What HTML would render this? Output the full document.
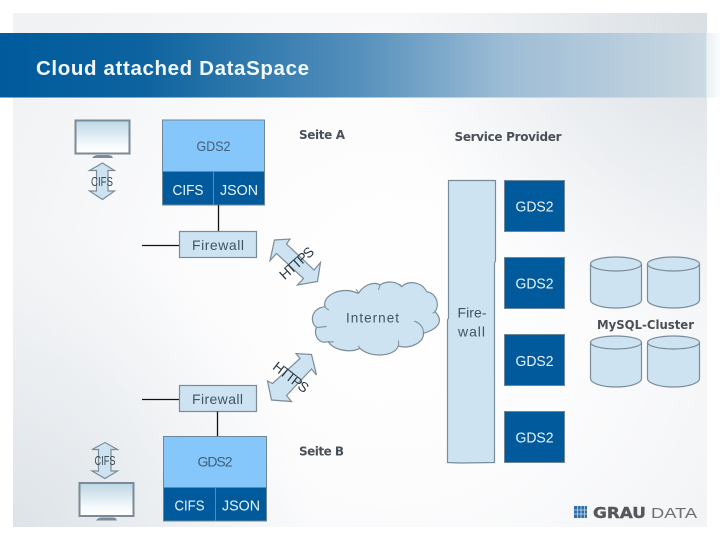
<!DOCTYPE html>
<html><head><meta charset="utf-8"><style>
html,body{margin:0;padding:0;background:#fff}
svg{display:block}
text{font-family:"Liberation Sans",sans-serif}
.b{font-weight:bold;fill:#4a5058;font-family:"DejaVu Sans",sans-serif}
.w{fill:#e8f3fb;font-size:15px}
.d{fill:#3f5f7a;font-size:14px}
.f{fill:#cde3f2;stroke:#7b8c99;stroke-width:1.2}
.n{fill:#005a9c;stroke:#6f8697;stroke-width:1}
.c{fill:none;stroke:#7b8c99;stroke-width:1.2}
</style></head><body>
<svg width="720" height="540" viewBox="0 0 720 540" xmlns="http://www.w3.org/2000/svg">
<defs>
<radialGradient id="bg" gradientUnits="userSpaceOnUse" cx="390" cy="300" r="430">
<stop offset="0" stop-color="#ffffff"/><stop offset=".45" stop-color="#fcfcfd"/><stop offset="1" stop-color="#f0f2f4"/>
</radialGradient>
<radialGradient id="bl" gradientUnits="userSpaceOnUse" cx="13" cy="527" r="300">
<stop offset="0" stop-color="#dde3e8"/><stop offset="1" stop-color="#e6eaee" stop-opacity="0"/>
</radialGradient>
<radialGradient id="tr" gradientUnits="userSpaceOnUse" cx="707" cy="13" r="320">
<stop offset="0" stop-color="#d8dee3"/><stop offset="1" stop-color="#e4e8ec" stop-opacity="0"/>
</radialGradient>
<linearGradient id="ban" x1="0" x2="1" y1="0" y2="0">
<stop offset="0" stop-color="#005a9c"/><stop offset=".2" stop-color="#0d639f"/><stop offset=".5" stop-color="#5590bc"/><stop offset=".7" stop-color="#9dbcd5"/><stop offset=".85" stop-color="#b5cbdc"/><stop offset=".98" stop-color="#cbd9e2"/><stop offset=".982" stop-color="#e9f0f4"/><stop offset="1" stop-color="#fafcfd"/>
</linearGradient>
<linearGradient id="mon" x1="0" x2="0" y1="0" y2="1">
<stop offset="0" stop-color="#bdd6e4"/><stop offset=".75" stop-color="#f6fafc"/><stop offset="1" stop-color="#ffffff"/>
</linearGradient>
</defs>
<rect x="13" y="13" width="694" height="514" fill="url(#bg)"/>
<rect x="13" y="13" width="694" height="514" fill="url(#bl)"/>
<rect x="13" y="13" width="694" height="514" fill="url(#tr)"/>
<rect x="0" y="33" width="720" height="64.5" fill="url(#ban)"/>
<text x="36" y="75" font-size="20.5" font-weight="bold" fill="#f2f8fc" textLength="273" lengthAdjust="spacing">Cloud attached DataSpace</text>

<!-- top left -->
<rect x="75.5" y="120.5" width="54" height="33" fill="url(#mon)" stroke="#7a8a96" stroke-width="2"/>
<path d="M92,158 Q94,155 98,155 H108 Q112,155 113,158 Z" fill="#7a8a96"/>
<polygon class="f" points="102.5,163 114.5,170.5 108,170.5 108,191 114.5,191 102.5,199.5 89.5,191 96.5,191 96.5,170.5 89.5,170.5"/>
<text x="91" y="186" font-size="12.5" fill="#3c4a55" textLength="22" lengthAdjust="spacingAndGlyphs">CIFS</text>

<rect x="162.5" y="120" width="102" height="51.5" fill="#85c6fb" stroke="#6f8697"/>
<rect class="n" x="162.5" y="171.5" width="102" height="33.5"/>
<line x1="213.5" y1="171.5" x2="213.5" y2="205" stroke="#6f8697"/>
<text class="d" x="196.5" y="151" textLength="34" lengthAdjust="spacingAndGlyphs">GDS2</text>
<text class="w" x="172.5" y="195" textLength="31" lengthAdjust="spacingAndGlyphs">CIFS</text>
<text class="w" x="220" y="195" textLength="38" lengthAdjust="spacingAndGlyphs">JSON</text>
<line x1="218.5" y1="205" x2="218.5" y2="231" stroke="#111" stroke-width="1.3"/>
<line x1="142" y1="245.5" x2="179" y2="245.5" stroke="#111" stroke-width="1.3"/>
<rect class="f" x="179.5" y="231.5" width="77" height="26"/>
<text x="192" y="250" font-size="14" fill="#3f5566" textLength="52" lengthAdjust="spacing">Firewall</text>

<text class="b" x="299" y="139" font-size="12" textLength="46" lengthAdjust="spacing">Seite A</text>
<text class="b" x="454.5" y="141" font-size="12" textLength="107" lengthAdjust="spacing">Service Provider</text>

<!-- https arrows -->
<polygon class="f" points="274.5,240 290,239 286.5,244 314,270 320.5,262.5 317.5,281.5 297.5,285 303.5,278.5 276.5,253.5 270,260.5"/>
<text transform="translate(296.5,263) rotate(-42)" x="0" y="5" text-anchor="middle" font-size="14" fill="#2d3a44" textLength="41" lengthAdjust="spacing">HTTPS</text>
<polygon class="f" points="311.5,354.5 296,353.5 300,358.5 272.5,383.5 267.5,381 271.5,400 291.5,401.5 286.5,395.5 311.5,369 316.5,375"/>
<text transform="translate(291,377) rotate(38)" x="0" y="5" text-anchor="middle" font-size="14" fill="#2d3a44" textLength="41" lengthAdjust="spacing">HTTPS</text>

<!-- cloud -->
<g transform="translate(300,270) scale(.33333)">
<path d="M75,110 C65,80 120,45 175,70 C195,40 225,35 240,45 C262,30 290,35 305,50 C325,30 365,35 380,65 C410,70 420,105 405,125 C430,150 420,175 370,190 C375,215 330,240 295,228 C285,260 210,265 180,235 C150,250 100,240 85,215 C50,225 40,185 50,172 C30,160 30,115 75,110 Z" fill="#cde3f2" stroke="#7b8c99" stroke-width="3.6"/>
<path d="M75,110 Q78,116 87,120 M50,172 Q62,172 80,169 M85,215 Q92,217 101,215 M175,70 Q173,64 168,58 M180,235 Q177,230 174,228 M295,228 Q297,220 295,212 M370,190 Q372,165 343,153 M405,125 L398,130 M240,45 Q238,52 235,60 M305,50 L299,42" fill="none" stroke="#7b8c99" stroke-width="3"/>
</g>
<text x="346" y="322.5" font-size="13.5" fill="#3f5566" textLength="53" lengthAdjust="spacing">Internet</text>

<!-- firewall column -->
<polygon class="f" points="448.5,180.5 495.5,180.5 495.5,261 494.5,263 494.5,462.5 460,463 447.5,462.5 447.5,320 448.5,318"/>
<text x="457.5" y="317.5" font-size="14" fill="#3f5566" textLength="29" lengthAdjust="spacing">Fire-</text>
<text x="458" y="336.5" font-size="14" fill="#3f5566" textLength="27" lengthAdjust="spacing">wall</text>

<!-- GDS2 right -->
<rect class="n" x="504.5" y="180.5" width="60" height="51"/>
<rect class="n" x="504.5" y="257.5" width="60" height="51"/>
<rect class="n" x="504.5" y="334.5" width="60" height="51"/>
<rect class="n" x="504.5" y="411.5" width="60" height="51"/>
<text class="w" x="515.5" y="211.5" font-size="14" textLength="38" lengthAdjust="spacingAndGlyphs">GDS2</text>
<text class="w" x="515.5" y="288.5" font-size="14" textLength="38" lengthAdjust="spacingAndGlyphs">GDS2</text>
<text class="w" x="515.5" y="366" font-size="14" textLength="38" lengthAdjust="spacingAndGlyphs">GDS2</text>
<text class="w" x="515.5" y="442.5" font-size="14" textLength="38" lengthAdjust="spacingAndGlyphs">GDS2</text>

<!-- cylinders -->
<g>
<path class="f" d="M590.5,264 A25.5,7 0 0 1 641.5,264 V300 A25.5,8 0 0 1 590.5,300 Z"/>
<path class="c" d="M590.5,264 A25.5,7 0 0 0 641.5,264"/>
<path class="f" d="M647.5,264 A26,7 0 0 1 699.5,264 V300 A26,8 0 0 1 647.5,300 Z"/>
<path class="c" d="M647.5,264 A26,7 0 0 0 699.5,264"/>
<path class="f" d="M590.5,342.5 A25.5,6.5 0 0 1 641.5,342.5 V378.5 A25.5,8.5 0 0 1 590.5,378.5 Z"/>
<path class="c" d="M590.5,342.5 A25.5,6.5 0 0 0 641.5,342.5"/>
<path class="f" d="M647.5,342.5 A26,6.5 0 0 1 699.5,342.5 V378.5 A26,8.5 0 0 1 647.5,378.5 Z"/>
<path class="c" d="M647.5,342.5 A26,6.5 0 0 0 699.5,342.5"/>
</g>
<text class="b" x="597" y="329" font-size="12.5" textLength="97" lengthAdjust="spacingAndGlyphs">MySQL-Cluster</text>

<!-- bottom left -->
<line x1="142" y1="399.5" x2="179" y2="399.5" stroke="#111" stroke-width="1.3"/>
<rect class="f" x="179.5" y="385.5" width="77" height="26"/>
<text x="192" y="404" font-size="14" fill="#3f5566" textLength="51" lengthAdjust="spacing">Firewall</text>
<line x1="217.5" y1="411.5" x2="217.5" y2="436" stroke="#111" stroke-width="1.3"/>
<rect x="163.5" y="436.5" width="103" height="51" fill="#85c6fb" stroke="#6f8697"/>
<rect class="n" x="163.5" y="487.5" width="103" height="33.5"/>
<line x1="215.5" y1="487.5" x2="215.5" y2="521" stroke="#6f8697"/>
<text class="d" x="197.5" y="466.5" textLength="35" lengthAdjust="spacing">GDS2</text>
<text class="w" x="174.5" y="510.5" textLength="30" lengthAdjust="spacingAndGlyphs">CIFS</text>
<text class="w" x="222" y="510.5" textLength="38" lengthAdjust="spacingAndGlyphs">JSON</text>
<text class="b" x="299" y="455.5" font-size="12" textLength="45" lengthAdjust="spacing">Seite B</text>

<polygon class="f" points="105,442.5 117.5,449.5 111,449.5 111,471 117.5,471 105,478.5 92,471 98.5,471 98.5,449.5 92,449.5"/>
<text x="94.5" y="465" font-size="12.5" fill="#3c4a55" textLength="21" lengthAdjust="spacingAndGlyphs">CIFS</text>
<rect x="79.5" y="483" width="54" height="33" fill="url(#mon)" stroke="#7a8a96" stroke-width="2"/>
<path d="M96,520.5 Q98,517.5 101,517.5 H113 Q116,517.5 117,520.5 Z" fill="#7a8a96"/>

<!-- logo -->
<rect x="574" y="506" width="13" height="12" fill="#2f6ea6"/>
<path d="M577.5,506 V518 M581,506 V518 M584.5,506 V518 M574,510 H587 M574,514 H587" stroke="#cfe0ee" stroke-width=".7"/>
<text x="593" y="518" font-size="15" font-weight="bold" fill="#55585c" stroke="#55585c" stroke-width=".4" style="font-family:'DejaVu Sans',sans-serif" textLength="53" lengthAdjust="spacingAndGlyphs">GRAU</text>
<text x="651" y="518" font-size="15" fill="#6d7074" style="font-family:'Liberation Sans',sans-serif" textLength="46" lengthAdjust="spacingAndGlyphs">DATA</text>
</svg>
</body></html>
